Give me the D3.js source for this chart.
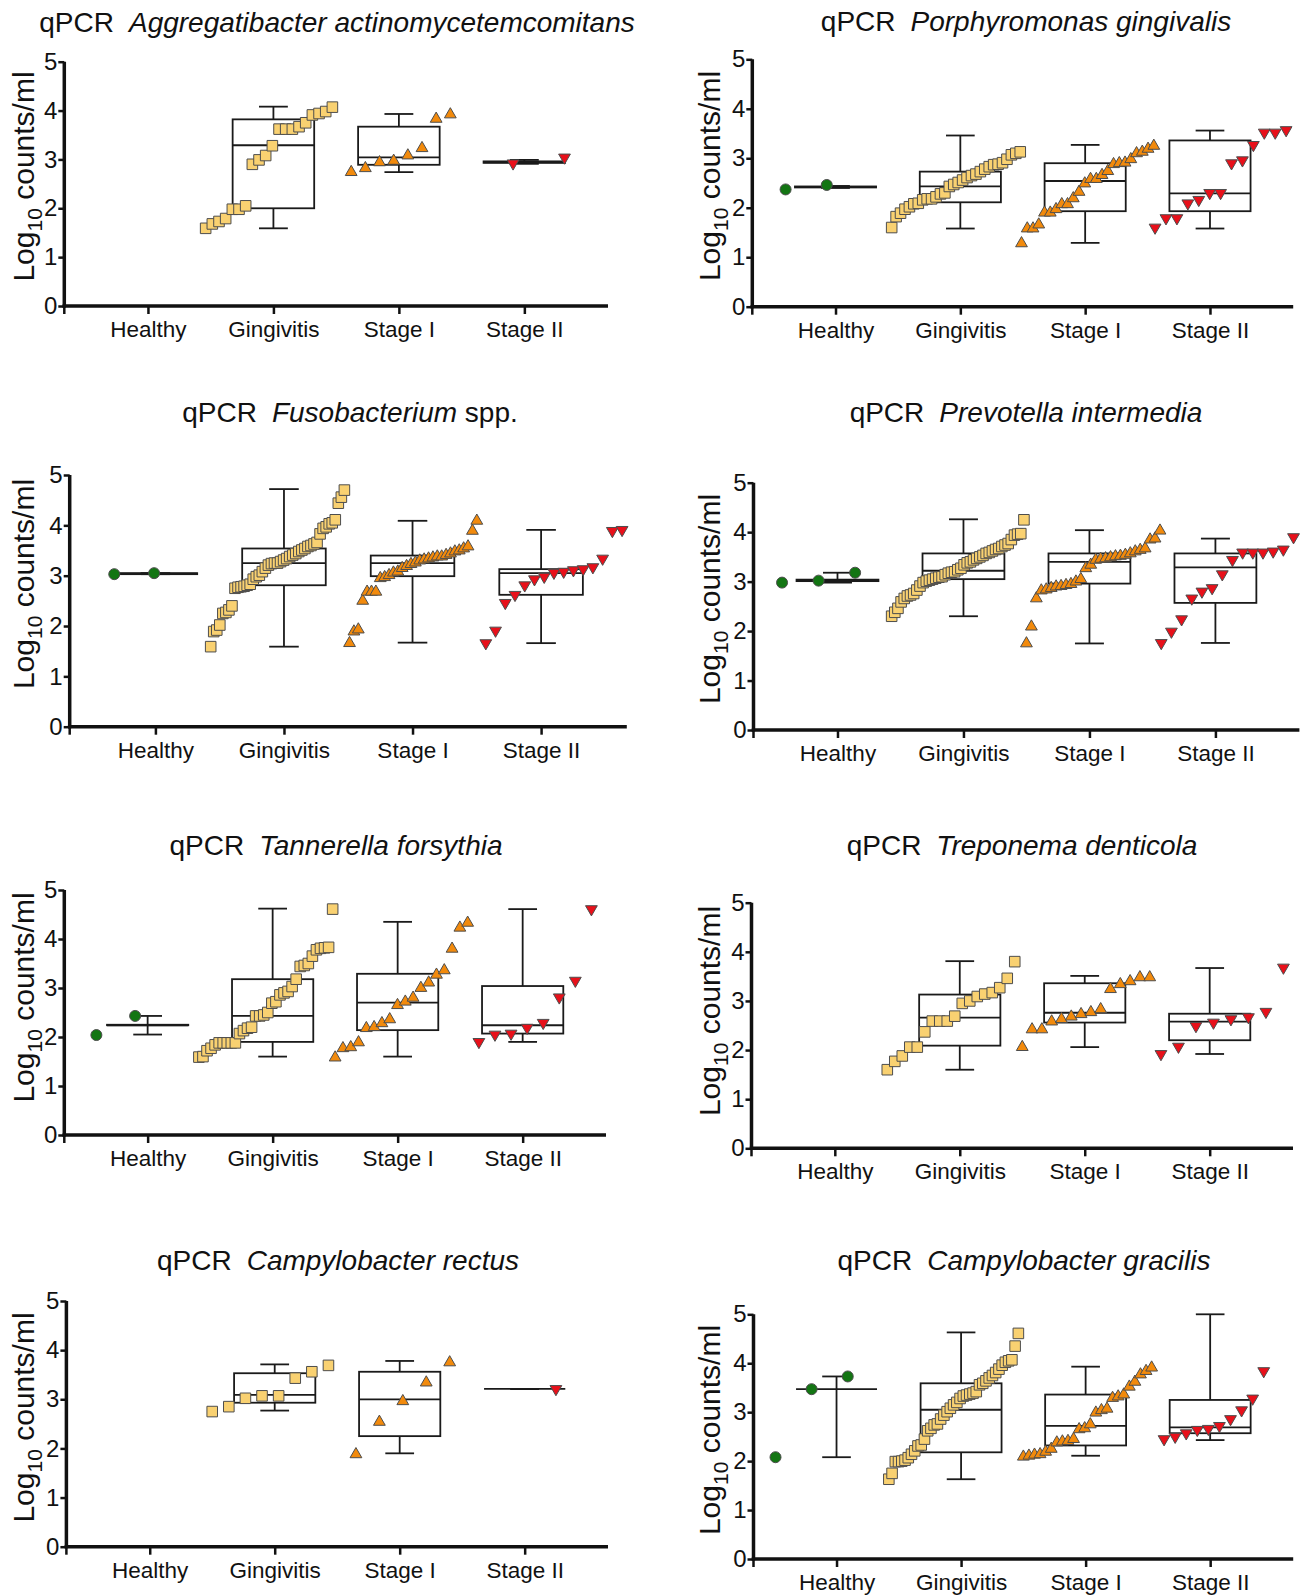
<!DOCTYPE html>
<html><head><meta charset="utf-8">
<script src="https://cdn.jsdelivr.net/npm/d3@7"></script>
<style>
body{margin:0;background:#fff}
svg{display:block}
text{font-family:"Liberation Sans",Arial,Helvetica,sans-serif;fill:#111}
</style>
</head><body>
<svg id="chart" width="1306" height="1595"></svg>
<script>
// ---------- categories, ticks, titles ----------
const groups = ["Healthy", "Gingivitis", "Stage I", "Stage II"];
const yTicks = [0, 1, 2, 3, 4, 5];
const speciesNames = ["Aggregatibacter actinomycetemcomitans", "Porphyromonas gingivalis", "Fusobacterium",
  "Prevotella intermedia", "Tannerella forsythia", "Treponema denticola", "Campylobacter rectus", "Campylobacter gracilis"];
const speciesSuffix = ["", "", " spp.", "", "", "", "", ""];

// ---------- values (log10 counts/ml), one list per group: Healthy, Gingivitis, Stage I, Stage II ----------
const aaValues = [
  [],
  [1.59,1.68,1.73,1.79,1.98,1.98,2.05,2.90,2.99,3.08,3.28,3.62,3.62,3.62,3.67,3.75,3.91,3.94,3.98,4.07],
  [2.74,2.82,2.94,2.97,3.08,3.23,3.83,3.92],
  [2.92,3.04]
];
const pgValues = [
  [2.37,2.46],
  [1.60,1.82,1.89,1.97,2.02,2.08,2.09,2.16,2.18,2.18,2.22,2.28,2.30,2.43,2.47,2.51,2.56,2.61,2.65,2.68,2.73,2.78,2.83,2.87,2.88,2.91,2.98,3.07,3.10,3.13],
  [1.28,1.58,1.58,1.66,1.90,1.90,1.97,2.07,2.07,2.19,2.32,2.49,2.58,2.58,2.66,2.74,2.88,2.90,2.91,2.98,3.10,3.13,3.19,3.25],
  [1.60,1.79,1.79,2.09,2.16,2.30,2.30,2.90,2.96,3.27,3.52,3.52,3.57]
];
const fuValues = [
  [3.03,3.05],
  [1.59,1.89,1.92,2.02,2.25,2.27,2.32,2.40,2.75,2.77,2.78,2.79,2.81,2.83,2.93,2.98,3.01,3.08,3.15,3.21,3.24,3.25,3.25,3.28,3.31,3.34,3.38,3.41,3.44,3.48,3.51,3.54,3.58,3.60,3.63,3.66,3.83,3.94,3.97,4.03,4.05,4.11,4.44,4.56,4.70],
  [1.66,1.89,1.93,2.50,2.68,2.68,2.68,2.95,2.97,3.01,3.06,3.08,3.15,3.19,3.23,3.26,3.30,3.32,3.34,3.36,3.38,3.38,3.41,3.44,3.48,3.50,3.54,3.58,3.89,4.09],
  [1.66,1.91,2.46,2.62,2.81,2.93,2.98,3.06,3.08,3.11,3.13,3.17,3.34,3.89,3.91]
];
const piValues = [
  [2.98,3.02,3.18],
  [2.30,2.38,2.46,2.59,2.66,2.71,2.73,2.76,2.83,2.91,2.98,3.01,3.03,3.05,3.07,3.09,3.10,3.14,3.17,3.19,3.20,3.24,3.27,3.34,3.38,3.40,3.44,3.47,3.50,3.53,3.57,3.59,3.62,3.65,3.67,3.71,3.74,3.77,3.85,3.94,3.96,3.97,4.25],
  [1.75,2.09,2.66,2.82,2.84,2.87,2.90,2.91,2.93,2.95,3.00,3.05,3.27,3.34,3.44,3.46,3.47,3.49,3.51,3.52,3.54,3.57,3.61,3.64,3.67,3.85,3.87,4.03],
  [1.76,1.99,2.24,2.66,2.80,2.87,3.15,3.44,3.59,3.59,3.59,3.61,3.65,3.90]
];
const tfValues = [
  [2.04,2.43],
  [1.59,1.60,1.72,1.77,1.84,1.88,1.88,1.88,1.88,1.88,2.07,2.13,2.18,2.20,2.43,2.43,2.45,2.50,2.69,2.72,2.86,2.90,2.93,3.03,3.18,3.44,3.46,3.50,3.65,3.78,3.81,3.82,3.83,4.61],
  [1.58,1.77,1.79,1.89,2.18,2.20,2.28,2.36,2.65,2.72,2.80,3.00,3.11,3.27,3.36,3.80,4.23,4.33],
  [1.90,2.05,2.07,2.19,2.29,2.81,3.15,4.61]
];
const tdValues = [
  [],
  [1.60,1.77,1.88,2.06,2.06,2.37,2.59,2.59,2.59,2.69,2.95,3.00,3.09,3.14,3.17,3.27,3.46,3.80],
  [2.06,2.42,2.42,2.58,2.63,2.68,2.73,2.77,2.83,3.24,3.34,3.40,3.48,3.48],
  [1.92,2.07,2.49,2.56,2.63,2.67,2.78,3.68]
];
const crValues = [
  [],
  [2.75,2.85,3.02,3.07,3.07,3.43,3.56,3.69],
  [1.88,2.54,2.96,3.34,3.75],
  [3.21]
];
const cgValues = [
  [2.08,3.47,3.73],
  [1.63,1.75,1.99,1.99,2.00,2.02,2.07,2.14,2.21,2.31,2.33,2.45,2.62,2.67,2.74,2.76,2.86,2.94,3.01,3.08,3.15,3.20,3.28,3.33,3.35,3.37,3.39,3.42,3.56,3.59,3.64,3.70,3.75,3.81,3.88,3.96,4.02,4.05,4.07,4.35,4.61],
  [2.09,2.11,2.13,2.14,2.19,2.25,2.38,2.40,2.41,2.45,2.65,2.67,2.75,2.99,3.04,3.07,3.29,3.32,3.36,3.52,3.62,3.77,3.84,3.91],
  [2.45,2.50,2.57,2.64,2.66,2.72,2.86,3.04,3.28,3.84]
];

// ---------- box statistics [whisker low, Q1, median, Q3, whisker high] ----------
const aaBoxes = [null, [1.59,2.00,3.29,3.82,4.08], [2.74,2.89,3.04,3.67,3.93], [2.91,2.93,2.94,2.96,2.99]];
const pgBoxes = [[2.40,2.41,2.42,2.43,2.44], [1.58,2.11,2.43,2.73,3.46], [1.29,1.93,2.54,2.90,3.27], [1.58,1.93,2.29,3.36,3.56]];
const fuBoxes = [[3.03,3.03,3.04,3.05,3.05], [1.59,2.81,3.25,3.54,4.72], [1.67,2.99,3.25,3.40,4.09], [1.66,2.62,3.05,3.13,3.91]];
const piBoxes = [[2.98,3.01,3.03,3.04,3.18], [2.30,3.05,3.22,3.57,4.26], [1.75,2.96,3.40,3.57,4.04], [1.76,2.57,3.29,3.57,3.87]];
const tfBoxes = [[2.05,2.24,2.24,2.25,2.43], [1.60,1.90,2.43,3.18,4.62], [1.60,2.14,2.70,3.29,4.35], [1.90,2.07,2.24,3.04,4.61]];
const tdBoxes = [null, [1.60,2.09,2.66,3.13,3.81], [2.06,2.56,2.76,3.36,3.51], [1.92,2.20,2.58,2.74,3.67]];
const crBoxes = [null, [2.77,2.93,3.09,3.53,3.71], [1.90,2.25,3.00,3.56,3.78], [3.21,3.21,3.21,3.21,3.21]];
const cgBoxes = [[2.08,3.47,3.47,3.47,3.73], [1.63,2.18,3.05,3.59,4.63], [2.11,2.32,2.72,3.36,3.93], [2.43,2.57,2.69,3.25,5.00]];

// ---------- layout (pixels) ----------
const layout = [
  {axisX:64.3, right:608, top:61.7, bottom:306, tx:337, ty:31.7, ytx:34, yty:176.5,
   spans:[null,[-0.54,0.47],[-0.38,0.41],[-0.09,0.32]]},
  {axisX:752.3, right:1293.2, top:59.3, bottom:306.7, tx:1026, ty:30.7, ytx:720, yty:176,
   spans:[[-0.40,-0.07],[-0.55,0.48],[-0.51,0.55],[-0.44,0.61]]},
  {axisX:69.7, right:626.8, top:475, bottom:726.7, tx:350, ty:421.7, ytx:34, yty:584,
   spans:[[-0.32,-0.01],[-0.57,0.47],[-0.49,0.50],[-0.43,0.63]]},
  {axisX:753.5, right:1299.4, top:482.7, bottom:730, tx:1026, ty:422.3, ytx:720, yty:599,
   spans:[[-0.44,0.14],[-0.57,0.48],[-0.50,0.56],[-0.43,0.62]]},
  {axisX:64.3, right:606, top:890, bottom:1135, tx:336, ty:855, ytx:34, yty:997.5,
   spans:[[-0.41,-0.10],[-0.59,0.48],[-0.50,0.56],[-0.35,0.55]]},
  {axisX:751.5, right:1293, top:902.7, bottom:1148.3, tx:1022, ty:855, ytx:720, yty:1011,
   spans:[null,[-0.58,0.44],[-0.50,0.52],[-0.39,0.59]]},
  {axisX:66.4, right:608, top:1301, bottom:1546.7, tx:338, ty:1270, ytx:34, yty:1417.5,
   spans:[null,[-0.50,0.43],[-0.35,0.40],[0.25,0.25]]},
  {axisX:753.5, right:1293.2, top:1314.3, bottom:1559, tx:1024, ty:1270, ytx:720, yty:1430,
   spans:[[-0.49,0.09],[-0.58,0.46],[-0.50,0.53],[-0.37,0.43]]}
];
const allValues = [aaValues, pgValues, fuValues, piValues, tfValues, tdValues, crValues, cgValues];
const allBoxes = [aaBoxes, pgBoxes, fuBoxes, piBoxes, tfBoxes, tdBoxes, crBoxes, cgBoxes];

const fills = ["#137513", "#F9D171", "#F28A0C", "#E8101A"];
const symbols = [d3.symbolCircle, d3.symbolSquare, d3.symbolTriangle, d3.symbolTriangle];
const symSizes = [95, 112, 60, 60];
const rotations = [0, 0, 0, 180];

const svg = d3.select("#chart");

layout.forEach((L, pi) => {
  const g = svg.append("g");
  const values = allValues[pi], boxes = allBoxes[pi];
  const x = d3.scalePoint().domain(groups).range([L.axisX, L.right]).padding(2/3);
  const y = d3.scaleLinear().domain([0, 5]).range([L.bottom, L.top]);
  const step = x.step();
  const bw = step * 0.65, cw = step * 0.23;

  // boxes
  groups.forEach((grp, gi) => {
    const b = boxes[gi];
    if (!b) return;
    const cx = x(grp);
    const bg = g.append("g").attr("stroke", "#1a1a1a").attr("stroke-width", 1.8).attr("fill", "none");
    bg.append("line").attr("x1", cx).attr("x2", cx).attr("y1", y(b[0])).attr("y2", y(b[1]));
    bg.append("line").attr("x1", cx).attr("x2", cx).attr("y1", y(b[3])).attr("y2", y(b[4]));
    bg.append("line").attr("x1", cx - cw/2).attr("x2", cx + cw/2).attr("y1", y(b[0])).attr("y2", y(b[0]));
    bg.append("line").attr("x1", cx - cw/2).attr("x2", cx + cw/2).attr("y1", y(b[4])).attr("y2", y(b[4]));
    bg.append("rect").attr("x", cx - bw/2).attr("width", bw).attr("y", y(b[3])).attr("height", Math.max(0, y(b[1]) - y(b[3])));
    bg.append("line").attr("x1", cx - bw/2).attr("x2", cx + bw/2).attr("y1", y(b[2])).attr("y2", y(b[2]));
  });

  // points
  groups.forEach((grp, gi) => {
    const vals = values[gi];
    if (!vals || !vals.length) return;
    const sp = L.spans[gi];
    const n = vals.length;
    const sorted = vals.slice().sort(d3.ascending);
    const pos = d3.scaleLinear().domain([0, Math.max(1, n - 1)]).range([x(grp) + sp[0]*step, x(grp) + sp[1]*step]);
    const sym = d3.symbol().type(symbols[gi]).size(symSizes[gi]);
    g.append("g").selectAll("path").data(sorted).join("path")
      .attr("d", sym)
      .attr("transform", (d, i) => `translate(${pos(i)},${y(d)}) rotate(${rotations[gi]})`)
      .attr("fill", fills[gi])
      .attr("stroke", "#4d4d4d")
      .attr("stroke-width", 1);
  });

  // y axis
  const ya = g.append("g").attr("transform", `translate(${L.axisX},0)`)
    .call(d3.axisLeft(y).tickValues(yTicks).tickFormat(d3.format("d")).tickSize(6).tickPadding(1).tickSizeOuter(0));
  ya.select(".domain").attr("stroke", "#111").attr("stroke-width", 3.5)
    .attr("d", `M0,${L.bottom + 1.5}V${L.top}`);
  ya.selectAll(".tick line").attr("stroke", "#111").attr("stroke-width", 2.5);
  ya.selectAll(".tick text").attr("font-size", 24).attr("font-family", "Liberation Sans, Arial, sans-serif").attr("fill", "#111");

  // x axis
  const xa = g.append("g").attr("transform", `translate(0,${L.bottom})`)
    .call(d3.axisBottom(x).tickSize(8).tickPadding(7).tickSizeOuter(0));
  xa.select(".domain").attr("stroke", "#111").attr("stroke-width", 3.5)
    .attr("d", `M${L.axisX - 1.75},0H${L.right}`);
  xa.selectAll(".tick line").attr("stroke", "#111").attr("stroke-width", 2.5);
  xa.selectAll(".tick text").attr("font-size", 22.5).attr("font-family", "Liberation Sans, Arial, sans-serif").attr("fill", "#111");
  xa.append("line").attr("x1", L.axisX).attr("x2", L.axisX).attr("y1", 0).attr("y2", 8)
    .attr("stroke", "#111").attr("stroke-width", 2.5);

  // y title
  const yt = g.append("text")
    .attr("transform", `translate(${L.ytx},${L.yty}) rotate(-90)`)
    .attr("text-anchor", "middle").attr("font-size", 30);
  yt.append("tspan").text("Log");
  yt.append("tspan").attr("font-size", 21).attr("dy", 8).text("10");
  yt.append("tspan").attr("dy", -8).text(" counts/ml");

  // title
  const tt = g.append("text").attr("x", L.tx).attr("y", L.ty).attr("text-anchor", "middle").attr("font-size", 28);
  tt.append("tspan").text("qPCR");
  tt.append("tspan").attr("dx", 15).attr("font-style", "italic").text(speciesNames[pi]);
  if (speciesSuffix[pi]) tt.append("tspan").text(speciesSuffix[pi]);
});
</script>
</body></html>
